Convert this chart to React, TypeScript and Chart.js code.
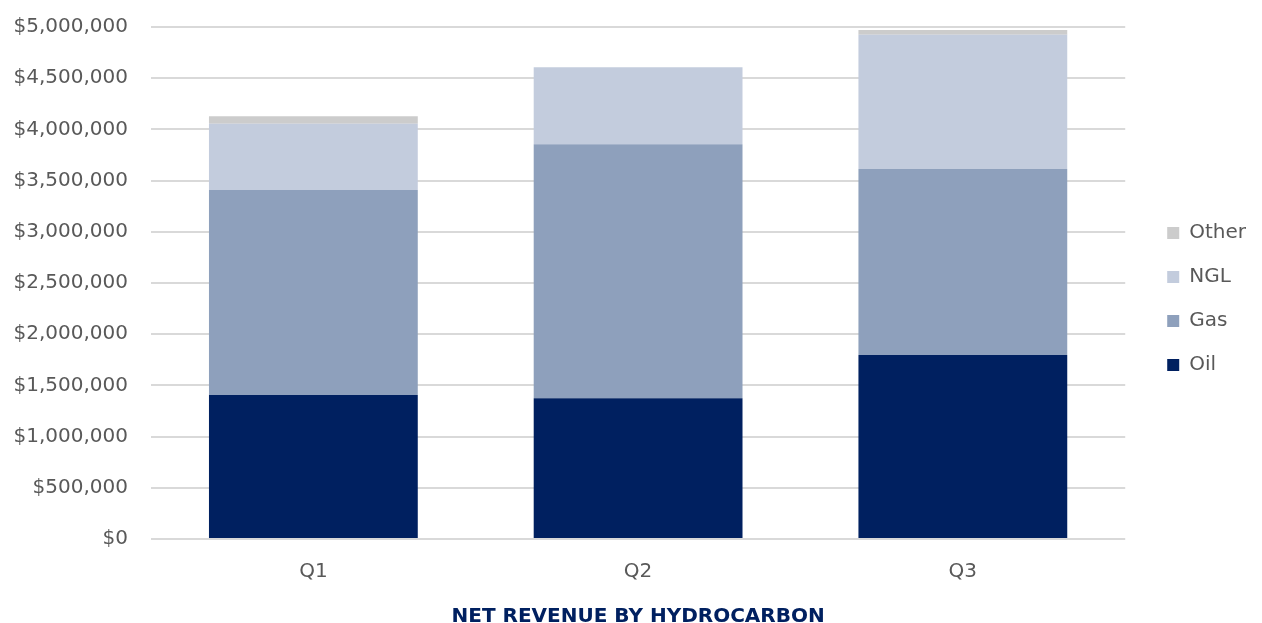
import React, { useEffect, useRef } from "react";
import { Chart, registerables } from "chart.js";

Chart.register(...registerables);

const categories = ["Q1", "Q2", "Q3"];
const oilValues = [1406000, 1374000, 1797000];
const gasValues = [2002000, 2480000, 1816000];
const nglValues = [648000, 752000, 1312000];
const otherValues = [72000, 0, 46000];
const seriesNames = ["Oil", "Gas", "NGL", "Other"];
const seriesColors = ["#002060", "#8EA0BC", "#C3CCDD", "#CCCCCC"];
const yMax = 5000000;
const yStep = 500000;
const titleText = "NET REVENUE BY HYDROCARBON";

export default function App() {
  const ref = useRef<HTMLCanvasElement | null>(null);

  useEffect(() => {
    if (!ref.current) return;
    const font = "'DejaVu Sans', sans-serif";
    const values = [oilValues, gasValues, nglValues, otherValues];
    const chart = new Chart(ref.current, {
      type: "bar",
      data: {
        labels: categories,
        datasets: seriesNames.map((name, i) => ({
          label: name,
          data: values[i],
          backgroundColor: seriesColors[i],
          borderWidth: 0,
          categoryPercentage: 0.643,
          barPercentage: 1,
        })),
      },
      options: {
        animation: false,
        responsive: false,
        maintainAspectRatio: false,
        layout: { padding: { top: 27, left: 0, right: 6, bottom: 11 } },
        plugins: {
          tooltip: { enabled: false },
          legend: {
            position: "right",
            fullSize: false,
            reverse: true,
            title: { display: true, text: " ", font: { size: 10 }, padding: 10 },
            labels: {
              boxWidth: 12,
              boxHeight: 12,
              padding: 24,
              color: "#595959",
              font: { family: font, size: 20 },
            },
          },
          title: {
            display: true,
            position: "bottom",
            fullSize: false,
            text: titleText,
            color: "#002060",
            font: { family: font, size: 20, weight: "bold" },
            padding: { top: 21, bottom: 0 },
          },
        },
        scales: {
          x: {
            stacked: true,
            grid: { display: false, drawTicks: false },
            border: { display: false },
            ticks: { color: "#595959", font: { family: font, size: 20 }, padding: 21 },
            afterFit: (s: any) => {
              s.height = 45;
            },
          },
          y: {
            stacked: true,
            min: 0,
            max: yMax,
            grid: { color: "#d9d9d9", lineWidth: 2, drawTicks: false },
            border: { display: false },
            ticks: {
              stepSize: yStep,
              color: "#595959",
              font: { family: font, size: 20 },
              padding: 23,
              callback: (v: any) => "$" + Number(v).toLocaleString("en-US"),
            },
            afterFit: (s: any) => {
              s.width = 151;
              s.paddingTop = 0;
              s.paddingBottom = 0;
            },
          },
          yRight: {
            position: "right",
            display: true,
            grid: { display: false, drawTicks: false },
            border: { display: false },
            ticks: { display: false },
            afterFit: (s: any) => {
              s.width = 18;
              s.paddingTop = 0;
              s.paddingBottom = 0;
            },
          },
        },
      },
    });
    return () => chart.destroy();
  }, []);

  return (
    <div style={{ position: "absolute", left: 0, top: 0, width: 1262, height: 640 }}>
      <canvas ref={ref} width={1262} height={640} style={{ width: 1262, height: 640 }} />
    </div>
  );
}
